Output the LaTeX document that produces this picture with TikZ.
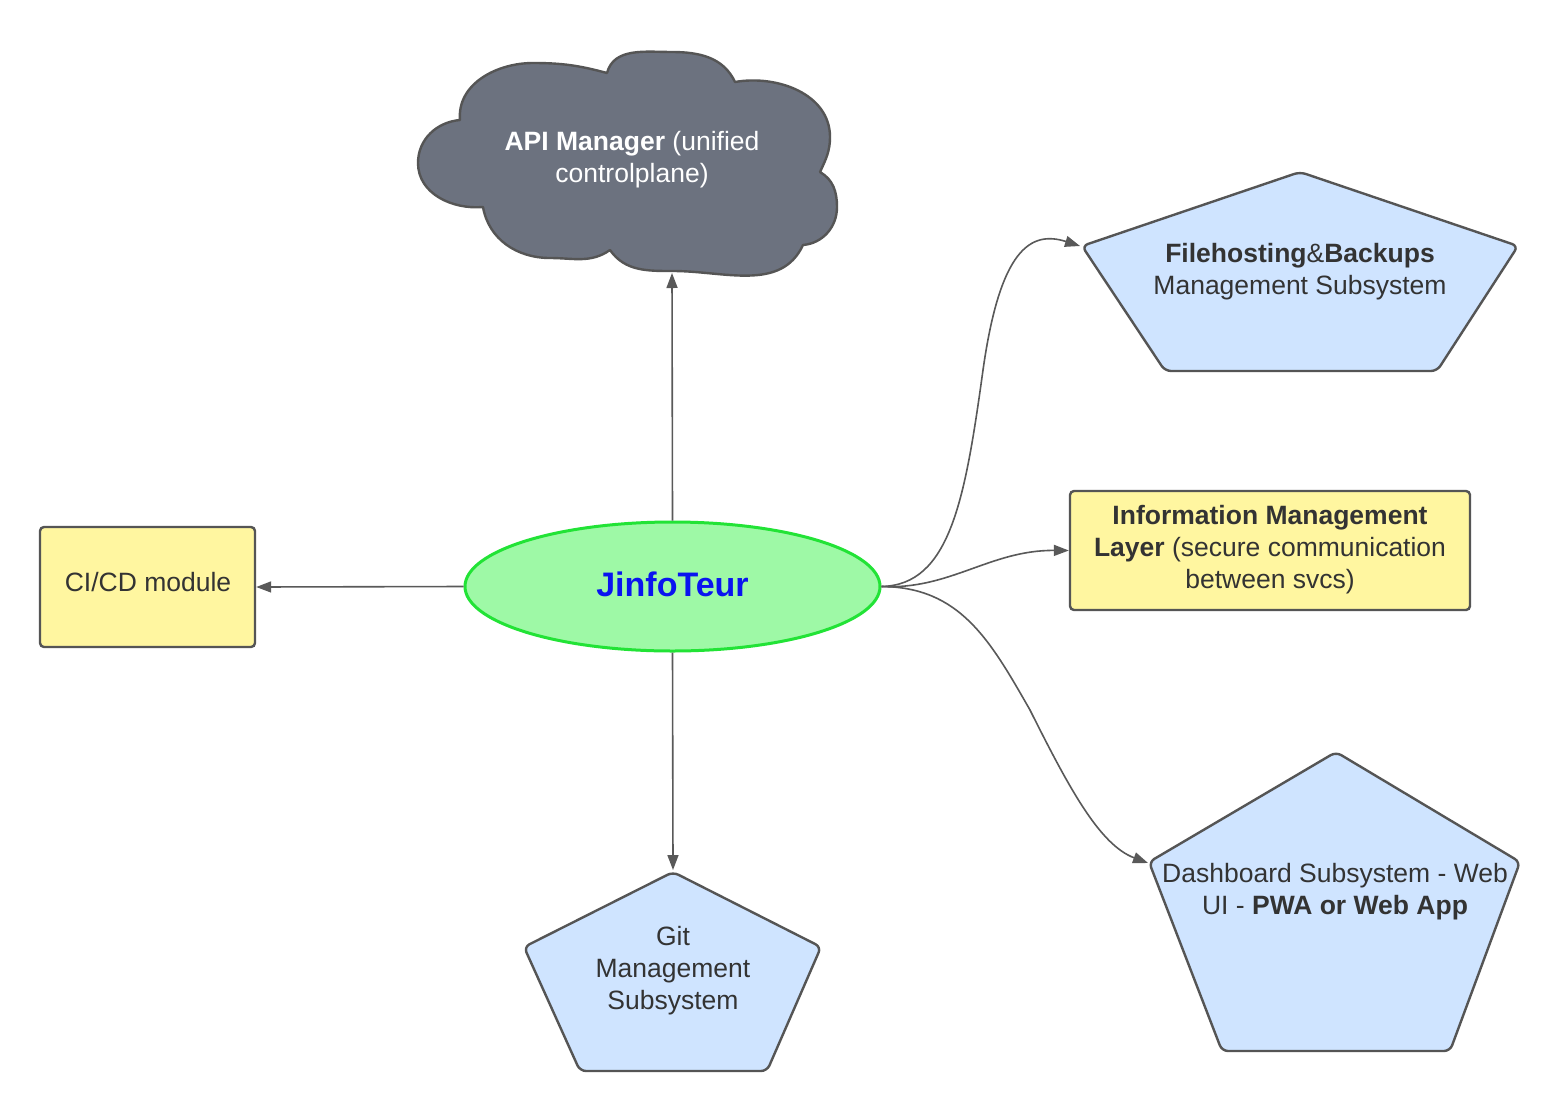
\documentclass[tikz,border=0pt]{standalone}
\usepackage{fontspec}
\setmainfont{Liberation Sans}
\usetikzlibrary{arrows.meta,shapes.geometric}
\definecolor{linegray}{HTML}{595959}
\definecolor{outgray}{HTML}{555555}
\definecolor{txt}{HTML}{333333}
\definecolor{bluefill}{HTML}{CFE4FF}
\definecolor{yelfill}{HTML}{FFF6A0}
\definecolor{grnfill}{HTML}{9EF9A6}
\definecolor{grnline}{HTML}{22E336}
\definecolor{cloudfill}{HTML}{6C727F}
\definecolor{jblue}{HTML}{0A14F0}
\begin{document}
\begin{tikzpicture}[x=1pt,y=1pt,
  conn/.style={draw=linegray, line width=1.6pt, -{Triangle[length=15pt,width=11pt]}},
  pent/.style={fill=bluefill, draw=outgray, line width=2.4pt, line join=round, rounded corners=6pt},
  ybox/.style={rectangle, fill=yelfill, draw=outgray, line width=2.4pt, rounded corners=4pt, inner sep=0pt},
  lbl/.style={text=txt, align=center, font=\fontsize{26.5}{32}\selectfont, inner sep=0pt},
]
\fill[white] (0,0) rectangle (1560,-1111);
\useasboundingbox (0,0) rectangle (1560,-1111);

% cloud
\filldraw[fill=cloudfill, draw=outgray, line width=2.4pt, line join=round]
 (460,-120) to[out=95,in=180] (533,-63) to[out=0,in=165] (607,-73)
 to[out=75,in=180] (672,-52) to[out=0,in=115] (735,-82)
 to[out=10,in=90] (830,-137) to[out=-90,in=65] (820,-172)
 to[out=-30,in=90] (837,-207) to[out=-90,in=5] (803,-245)
 to[out=-115,in=0] (673,-271) to[out=180,in=-55] (610,-250)
 to[out=-145,in=0] (550,-258) to[out=180,in=-80] (483,-207)
 to[out=185,in=-90] (418,-163) to[out=90,in=185] cycle;
\node[lbl, text=white] (api) at (632,-159.5) {\textbf{API Manager} (unified\\controlplane)};
\coordinate (cloudb) at (672,-273);

% pentagons
\filldraw[pent] (1300,-172) -- (1518,-246) -- (1437,-371) -- (1165,-371) -- (1082,-246) -- cycle;
\coordinate (fhl) at (1080,-246);
\node[lbl] (fh) at (1300,-272) {\textbf{Filehosting}\&\textbf{Backups}\\Management Subsystem};

\filldraw[pent] (673,-872) -- (821,-947) -- (767,-1071) -- (580,-1071) -- (524,-947) -- cycle;
\coordinate (gittop) at (673,-870);
\node[lbl] (git) at (673,-970.5) {Git\\Management\\Subsystem};

\filldraw[pent] (1336,-752) -- (1520,-862) -- (1450,-1051) -- (1222,-1051) -- (1149,-862) -- cycle;
\coordinate (dbl) at (1148,-863);
\node[lbl] (db) at (1335,-891.5) {Dashboard Subsystem - Web\\UI - \textbf{PWA or Web App}};

% boxes
\node[ybox, minimum width=215pt, minimum height=120pt] (ci) at (147.5,-587) {};
\node[lbl] (citxt) at (148,-582) {CI/CD module};
\node[ybox, minimum width=400pt, minimum height=119pt] (info) at (1270,-550.5) {};
\node[lbl] (infotxt) at (1270,-550) {\textbf{Information Management}\\\textbf{Layer} (secure communication\\between svcs)};

% center ellipse
\node[ellipse, fill=grnfill, draw=grnline, line width=3pt, minimum width=415pt, minimum height=129pt, inner sep=0pt,
      text=jblue, font=\fontsize{34}{40}\selectfont\bfseries] (jt) at (672.5,-586.5) {\raisebox{4pt}{JinfoTeur}};

% connectors
\draw[conn] (jt.north) -- (cloudb);
\draw[conn] (jt.west) -- (ci.east);
\draw[conn] (jt.south) -- (gittop);
\draw[conn] (jt.east) .. controls (950,-585) and (965,-500) .. (983,-370) .. controls (1000,-250) and (1030,-230) .. (fhl);
\draw[conn] (jt.east) .. controls (950,-590) and (990,-550) .. (info.west);
\draw[conn] (jt.east) .. controls (960,-587) and (990,-640) .. (1030,-710) .. controls (1070,-790) and (1100,-845) .. (dbl);
\end{tikzpicture}
\end{document}
